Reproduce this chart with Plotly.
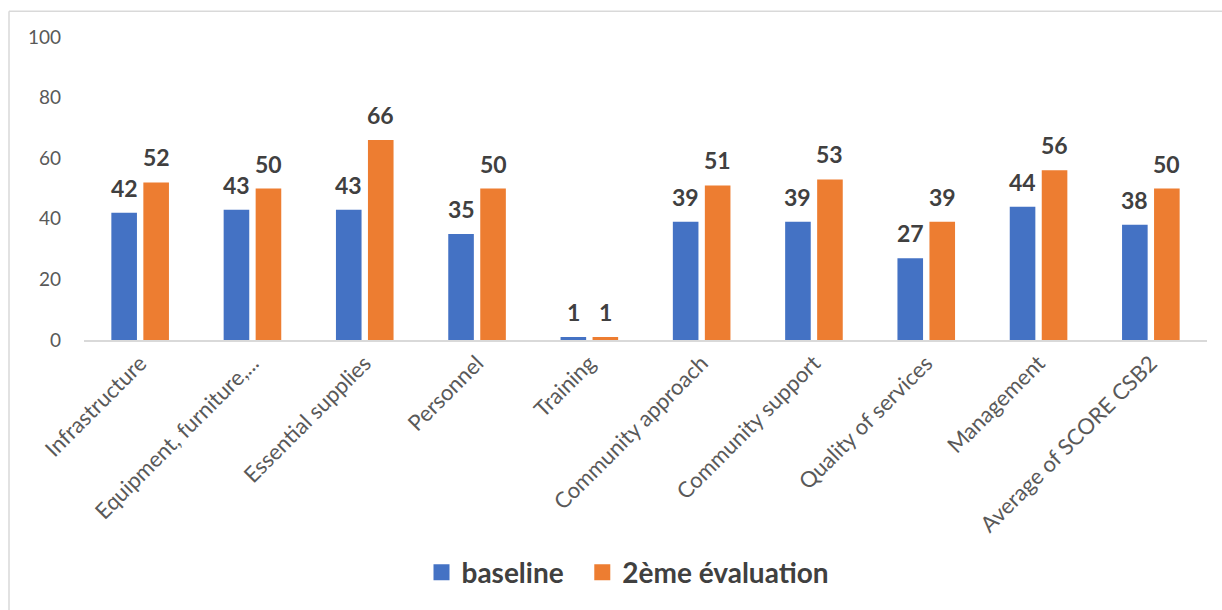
import plotly.graph_objects as go

categories = [
    "Infrastructure", "Equipment, furniture,...", "Essential supplies", "Personnel",
    "Training", "Community approach", "Community support", "Quality of services",
    "Management", "Average of SCORE CSB2",
]
baseline = [42, 43, 43, 35, 1, 39, 39, 27, 44, 38]
second_eval = [52, 50, 66, 50, 1, 51, 53, 39, 56, 50]
series_names = ["baseline", "2ème évaluation"]
y_ticks = [0, 20, 40, 60, 80, 100]

BLUE = "#4472C4"
ORANGE = "#ED7D31"
TEXT_DARK = "#404040"
TEXT_GREY = "#595959"
FONT = "Lato, 'Open Sans', sans-serif"

W, H = 1222, 610
M_L, M_R, M_T, M_B = 84, 15, 37, 268
plot_w = W - M_L - M_R
plot_h = H - M_T - M_B

fig = go.Figure()
for name, vals, col in [(series_names[0], baseline, BLUE), (series_names[1], second_eval, ORANGE)]:
    fig.add_trace(go.Bar(
        x=categories, y=vals, name=name, showlegend=False,
        marker=dict(color=col, line=dict(width=0)),
    ))

# legend entries with larger square swatches
for name, col, pad in [(series_names[0], BLUE, "\u00a0\u00a0"), (series_names[1], ORANGE, "")]:
    fig.add_trace(go.Scatter(
        x=[None], y=[None], mode="markers", name=name + pad,
        marker=dict(symbol="square", size=16, color=col),
    ))

# value labels above each bar (offset by half a bar slot within its group)
bargap, bargroupgap = 0.43, 0.2
slot = plot_w / len(categories) * (1 - bargap) / 2
for i, cat in enumerate(categories):
    for vals, dx in [(baseline, -slot / 2), (second_eval, slot / 2)]:
        fig.add_annotation(
            x=cat, y=vals[i], text=f"<b>{vals[i]}</b>", showarrow=False,
            xshift=dx, yshift=9, yanchor="bottom",
            font=dict(family=FONT, size=23, color=TEXT_DARK),
        )

# outer frame (top and left edges)
left_px, top_px = 9, 11
x0 = (left_px - M_L) / plot_w
y1 = 1 + (M_T - top_px) / plot_h
fig.add_shape(type="line", xref="paper", yref="paper", x0=x0, x1=1.2, y0=y1, y1=y1,
              line=dict(color="#D9D9D9", width=1.5))
fig.add_shape(type="line", xref="paper", yref="paper", x0=x0, x1=x0, y0=y1, y1=-1.2,
              line=dict(color="#D9D9D9", width=1.5))

fig.update_layout(
    width=W, height=H,
    margin=dict(l=M_L, r=M_R, t=M_T, b=M_B),
    paper_bgcolor="white", plot_bgcolor="white",
    barmode="group", bargap=bargap, bargroupgap=bargroupgap,
    font=dict(family=FONT, color=TEXT_GREY),
    showlegend=True,
    legend=dict(
        orientation="h", x=(628 - M_L) / plot_w, y=(342 - 576) / plot_h,
        xanchor="center", yanchor="middle",
        font=dict(family=FONT, size=28, color=TEXT_DARK, weight="bold"),
        itemwidth=30, itemsizing="trace", tracegroupgap=0,
    ),
    xaxis=dict(
        showgrid=False, showline=True, linecolor="#D9D9D9", linewidth=1.5,
        tickangle=-45, ticks="", tickfont=dict(family=FONT, size=22, color=TEXT_GREY),
        fixedrange=True,
    ),
    yaxis=dict(
        range=[0, 100], tickvals=y_ticks, showgrid=False, zeroline=False,
        showline=False, ticks="", ticklabelstandoff=22,
        tickfont=dict(family=FONT, size=19, color=TEXT_GREY),
        fixedrange=True,
    ),
)

fig.write_html("out.html", config=dict(displayModeBar=False))
